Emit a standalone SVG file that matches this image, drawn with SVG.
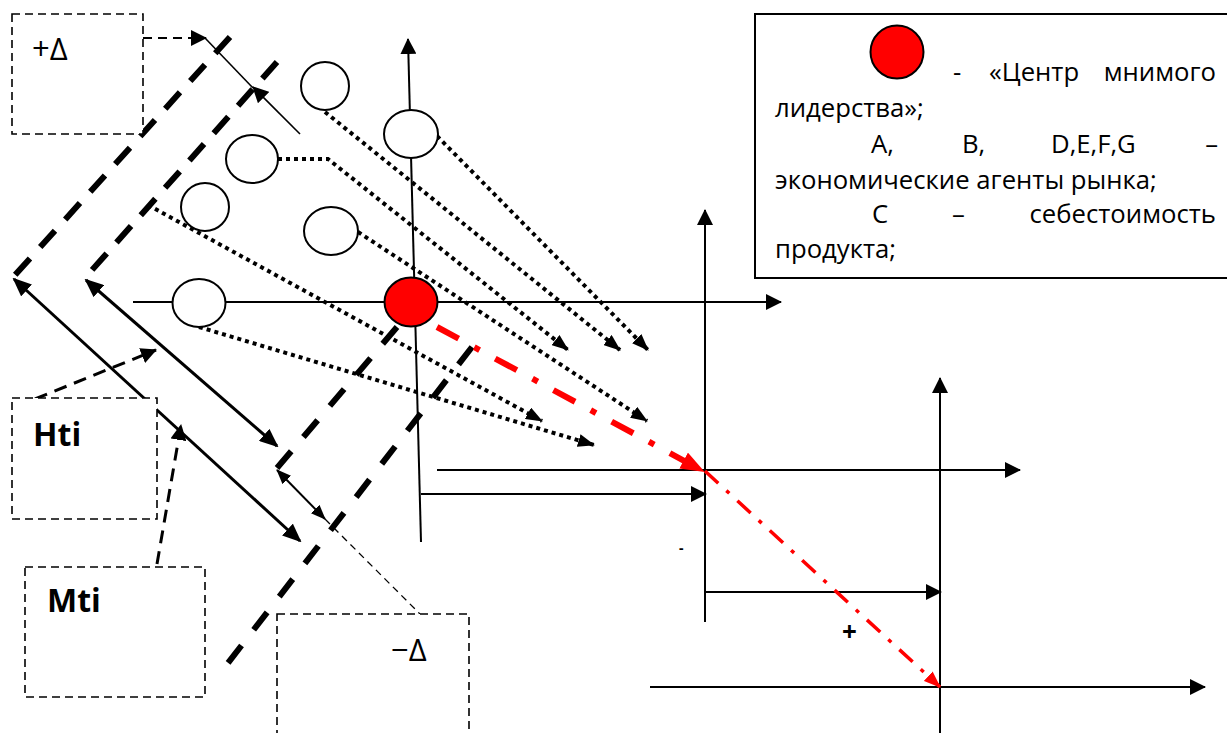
<svg xmlns="http://www.w3.org/2000/svg" width="1227" height="733" viewBox="0 0 1227 733">
<style>
.ax{stroke:#000;stroke-width:2;fill:none}
.thk{stroke:#000;stroke-width:6;fill:none}
.dbl{stroke:#000;stroke-width:3;fill:none}
.dot{stroke:#000;stroke-width:4;fill:none;stroke-dasharray:4 4}
.box{fill:#fff;stroke:#000;stroke-width:1.6;stroke-dasharray:8 5}
.dar{stroke:#000;stroke-width:3;fill:none;stroke-dasharray:13 8}
.ell{fill:#fff;stroke:#000;stroke-width:2}
.red{fill:#f00;stroke:#000;stroke-width:2}
.t{font-family:"Open Sans","Liberation Sans",sans-serif;fill:#000}
.lg{font-family:"Open Sans","Liberation Sans",sans-serif;font-size:25.7px;fill:#000}
</style>
<defs>
<marker id="ah" viewBox="0 0 16 16" refX="15" refY="8" markerWidth="16" markerHeight="16" orient="auto" markerUnits="userSpaceOnUse"><path d="M0,0 L16,8 L0,16z" fill="#000"/></marker>
<marker id="ahd" viewBox="0 0 17 13" refX="16" refY="6.5" markerWidth="17" markerHeight="13" orient="auto" markerUnits="userSpaceOnUse"><path d="M0,0 L17,6.5 L0,13z" fill="#000"/></marker>
<marker id="ahT" viewBox="0 0 19 16" refX="17" refY="8" markerWidth="19" markerHeight="16" orient="auto-start-reverse" markerUnits="userSpaceOnUse"><path d="M0,0 L19,8 L0,16z" fill="#000"/></marker>
<marker id="ahS" viewBox="0 0 15 12" refX="14" refY="6" markerWidth="15" markerHeight="12" orient="auto-start-reverse" markerUnits="userSpaceOnUse"><path d="M0,0 L15,6 L0,12z" fill="#000"/></marker>
<marker id="ahR" viewBox="0 0 24 18" refX="22" refY="9" markerWidth="24" markerHeight="18" orient="auto" markerUnits="userSpaceOnUse"><path d="M0,0 L24,9 L0,18z" fill="#f00"/></marker>
<marker id="ahR2" viewBox="0 0 17 13" refX="16" refY="6.5" markerWidth="17" markerHeight="13" orient="auto" markerUnits="userSpaceOnUse"><path d="M0,0 L17,6.5 L0,13z" fill="#f00"/></marker>
</defs>
<rect width="1227" height="733" fill="#fff"/>

<g id="connectors">
  <line class="ax" x1="421" y1="542" x2="408" y2="39" marker-end="url(#ah)"/>
  <line class="ax" x1="133" y1="302" x2="781" y2="302" marker-end="url(#ah)"/>
  <line class="ax" x1="437" y1="470" x2="1020" y2="470" marker-end="url(#ah)"/>
  <line class="ax" x1="421" y1="494" x2="706" y2="494" marker-end="url(#ah)"/>
  <line class="ax" x1="705" y1="622" x2="705" y2="210" marker-end="url(#ah)"/>
  <line class="ax" x1="940" y1="733" x2="940" y2="378" marker-end="url(#ah)"/>
  <line class="ax" x1="705" y1="592" x2="941" y2="592" marker-end="url(#ah)"/>
  <line class="ax" x1="650" y1="687" x2="1205" y2="687" marker-end="url(#ah)"/>
  <line class="thk" x1="230" y1="37" x2="15" y2="275" stroke-dasharray="22 15.3"/>
  <line class="thk" x1="277" y1="62" x2="92" y2="270" stroke-dasharray="22 14.6"/>
  <line class="thk" x1="397" y1="327" x2="277" y2="468" stroke-dasharray="22 18.8"/>
  <line class="thk" x1="472" y1="347" x2="228" y2="663" stroke-dasharray="22 19.9"/>
  <line class="dbl" x1="14" y1="279" x2="300" y2="541" marker-start="url(#ahT)" marker-end="url(#ahT)"/>
  <line class="dbl" x1="86" y1="280" x2="277" y2="446" marker-start="url(#ahT)" marker-end="url(#ahT)"/>
  <line stroke="#000" stroke-width="2" x1="277" y1="470" x2="325" y2="519" marker-start="url(#ahS)" marker-end="url(#ahS)"/>
  <line stroke="#000" stroke-width="1.3" stroke-dasharray="7 5" x1="325" y1="519" x2="420" y2="614"/>
  <path class="dot" d="M325,112 L620,350" marker-end="url(#ahd)"/>
  <path class="dot" d="M437,136 L648,350" marker-end="url(#ahd)"/>
  <path class="dot" d="M278,159 L328,159 L568,350" marker-end="url(#ahd)"/>
  <path class="dot" d="M148,205 L542,421" marker-end="url(#ahd)"/>
  <path class="dot" d="M358,232 L647,421" marker-end="url(#ahd)"/>
  <path class="dot" d="M199,327 L594,445" marker-end="url(#ahd)"/>
  <path d="M437,327 L703,471" stroke="#f00" stroke-width="6" fill="none" stroke-dasharray="24.6 17.8 6 17.8" marker-end="url(#ahR)"/>
  <path d="M705,471 L940,687" stroke="#f00" stroke-width="3.5" fill="none" stroke-dasharray="18 11 4 11" marker-end="url(#ahR2)"/>
  <line stroke="#000" stroke-width="2" stroke-dasharray="9 6" x1="143" y1="38" x2="206" y2="38" marker-end="url(#ah)"/>
  <line stroke="#000" stroke-width="1.6" x1="253" y1="88" x2="205" y2="38"/>
  <line stroke="#000" stroke-width="1.6" x1="300" y1="134" x2="253" y2="87" marker-end="url(#ah)"/>
  <line class="dar" x1="35" y1="399" x2="156" y2="350" marker-end="url(#ah)"/>
  <line class="dar" x1="157" y1="564" x2="181" y2="425" marker-end="url(#ah)"/>
</g>

<g id="node-A"><ellipse class="ell" cx="325" cy="86" rx="24" ry="24"/></g>
<g id="node-B"><ellipse class="ell" cx="411" cy="134" rx="27" ry="24"/></g>
<g id="node-D"><ellipse class="ell" cx="252" cy="159" rx="26" ry="24"/></g>
<g id="node-E"><ellipse class="ell" cx="205" cy="207" rx="24" ry="24"/></g>
<g id="node-F"><ellipse class="ell" cx="331" cy="231" rx="27" ry="24"/></g>
<g id="node-G"><ellipse class="ell" cx="199" cy="303" rx="26.5" ry="24"/></g>
<g id="node-center"><ellipse class="red" cx="411" cy="302" rx="26.5" ry="24.5"/></g>

<g id="box-plus-delta"><rect class="box" x="12" y="14" width="131" height="120"/><text class="t" x="32" y="60" font-size="31">+Δ</text></g>
<g id="box-hti"><rect class="box" x="12" y="398" width="145" height="121"/><text class="t" x="33" y="446" font-size="32" font-weight="bold">Hti</text></g>
<g id="box-mti"><rect class="box" x="25" y="567" width="180" height="130"/><text class="t" x="47" y="612" font-size="32" font-weight="bold">Mti</text></g>
<g id="box-minus-delta"><rect class="box" x="277" y="614" width="192" height="130"/><text class="t" x="391" y="661" font-size="31">−Δ</text></g>

<g id="marks">
  <text class="t" x="679" y="553" font-size="14" font-weight="bold">-</text>
  <text class="t" x="842" y="641" font-size="26" font-weight="bold">+</text>
</g>

<g id="legend">
  <rect x="755" y="14" width="480" height="264" fill="#fff" stroke="#000" stroke-width="2"/>
  <circle class="red" cx="897" cy="52" r="26.5"/>
  <text class="lg" x="953" y="81">-</text>
  <text class="lg" x="989" y="81">«Центр</text>
  <text class="lg" x="1216" y="81" text-anchor="end">мнимого</text>
  <text class="lg" x="775" y="117">лидерства»;</text>
  <text class="lg" x="871" y="153">A,</text>
  <text class="lg" x="962" y="153">B,</text>
  <text class="lg" x="1051" y="153">D,E,F,G</text>
  <text class="lg" x="1218" y="153" text-anchor="end">–</text>
  <text class="lg" x="775" y="189">экономические агенты рынка;</text>
  <text class="lg" x="872" y="223">C</text>
  <text class="lg" x="952" y="223">–</text>
  <text class="lg" x="1216" y="223" text-anchor="end">себестоимость</text>
  <text class="lg" x="775" y="258">продукта;</text>
</g>
</svg>
